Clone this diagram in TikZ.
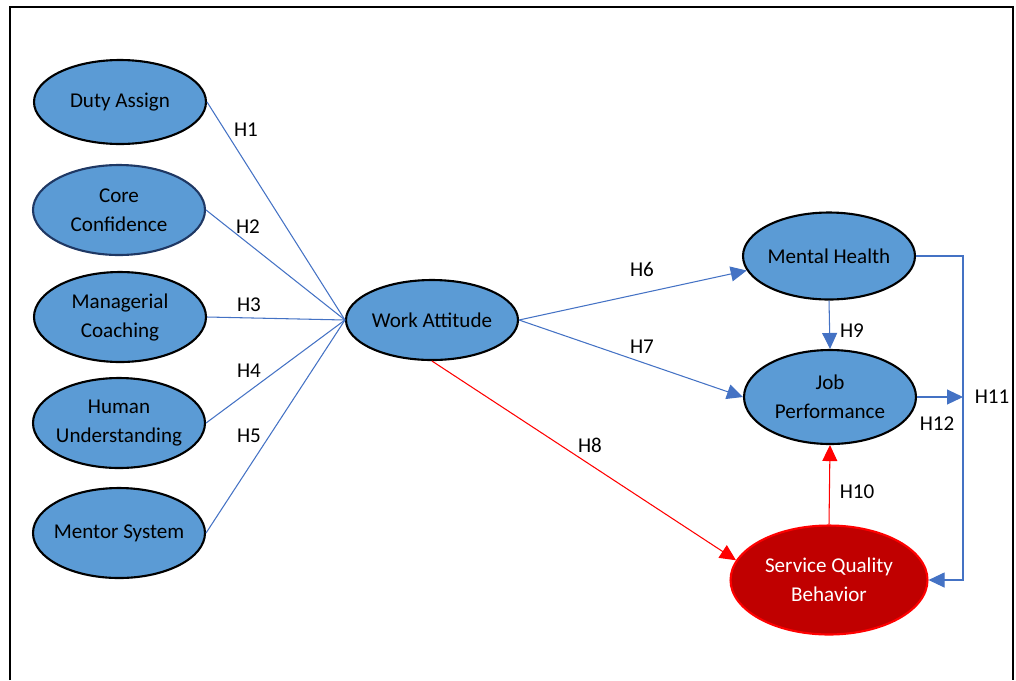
\documentclass[tikz,border=0pt]{standalone}
\usepackage{fontspec}
\setmainfont{Carlito}
\usepackage{tikz}
\usetikzlibrary{shapes.geometric,arrows.meta,positioning}

\definecolor{nodeblue}{HTML}{5B9BD5}
\definecolor{linkblue}{HTML}{4472C4}
\definecolor{darkred}{HTML}{C00000}
\definecolor{navy}{HTML}{1F3864}

\tikzset{
  construct/.style={ellipse,draw=black,line width=1.2pt,fill=nodeblue,
    inner xsep=-0.6cm,inner ysep=-0.3cm,minimum width=3.44cm,minimum height=1.8cm,
    align=center,font=\fontsize{12}{16.5}\selectfont},
  outcome/.style={construct,draw=red,fill=darkred,text=white,
    minimum width=3.94cm,minimum height=2.18cm},
  hyp/.style={font=\fontsize{12}{14}\selectfont,inner sep=1pt},
  link/.style={draw=linkblue,line width=0.6pt},
  redlink/.style={draw=red,line width=0.6pt}
}

\begin{document}
\begin{tikzpicture}[x=0.02cm,y=-0.02cm,>={Triangle[length=3.2mm,width=3mm]}]
    \useasboundingbox (0,0) rectangle (1016,680);
    \draw[line width=1.2pt] (10,680) -- (10,7) -- (1013,7) -- (1013,680);

    % antecedents
    \node[construct,minimum height=1.68cm] (DA) at (120,102) {Duty Assign};
    \node[construct,draw=navy]  (CC) at (119,210) {Core\\ Confidence};
    \node[construct]            (MC) at (120,317) {Managerial\\ Coaching};
    \node[construct]            (HU) at (119,423) {Human\\ Understanding};
    \node[construct]            (MS) at (119,533) {Mentor System};

    \node[construct,minimum height=1.6cm] (WA) at (432,320) {Work Attitude};

    \node[construct,minimum height=1.74cm] (MH) at (829,256) {Mental Health};
    \node[construct,minimum height=1.88cm] (JP) at (830,397) {Job\\ Performance};
    \node[outcome] (SQ) at (829,580) {Service Quality\\ Behavior};
    \coordinate (bus) at (963,400);

    % hypothesis labels
    \node[hyp] (H1)  at (246,130) {H1};
    \node[hyp] (H2)  at (248,227) {H2};
    \node[hyp] (H3)  at (249,305) {H3};
    \node[hyp] (H4)  at (249,371) {H4};
    \node[hyp] (H5)  at (249,436) {H5};
    \node[hyp] (H6)  at (642,269) {H6};
    \node[hyp] (H7)  at (642,347) {H7};
    \node[hyp] (H8)  at (590,445) {H8};
    \node[hyp] (H9)  at (852,331) {H9};
    \node[hyp] (H10) at (857,492) {H10};
    \node[hyp] (H11) at (992,397) {H11};
    \node[hyp] (H12) at (937,424) {H12};

    % paths into work attitude
    \draw[link] (DA.east) -- (WA.west);
    \draw[link] (CC.east) -- (WA.west);
    \draw[link] (MC.east) -- (WA.west);
    \draw[link] (HU.east) -- (WA.west);
    \draw[link] (MS.east) -- (WA.west);

    % paths from work attitude
    \draw[link,->] (WA.east) -- (MH.190);
    \draw[link,->] (WA.east) -- (JP.west);
    \draw[link,->] (MH.south) -- (JP.north);
    \draw[redlink,->] (WA.south) -- (SQ.168);
    \draw[redlink,->] (SQ.north) -- (JP.south);

    % mental health and job performance to the right
    \draw[link,->] (MH.east) -- (MH.east -| bus) |- (SQ.east);
    \draw[link,->] (JP.east) -- (JP.east -| bus);

  \end{tikzpicture}
\end{document}
